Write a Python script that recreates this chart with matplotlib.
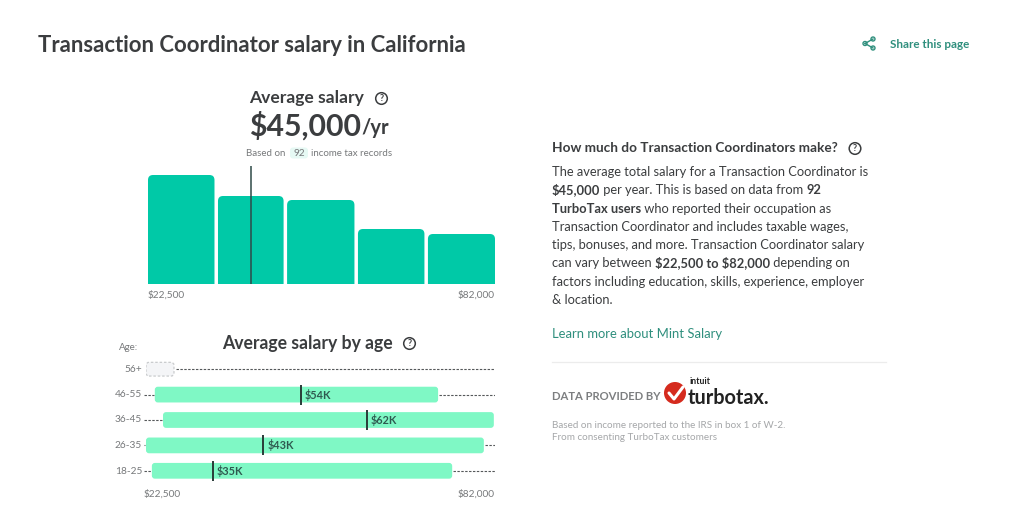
"""Transaction Coordinator salary page"""
import matplotlib
matplotlib.use('Agg')
import matplotlib.pyplot as plt
from matplotlib.patches import Circle, FancyBboxPatch

plt.rcParams['font.family'] = ['Lato', 'DejaVu Sans']

# histogram
hist_edges = [22500, 34500, 46350, 58500, 70500, 82000]
hist_heights = [109, 88, 84, 55, 50]
avg_marker = 40200
low_label = '$22,500'
high_label = '$82,000'

# salary by age
ages = ['18-25', '26-35', '36-45', '46-55', '56+']
age_low = [23500, 22500, 25400, 24000, None]
age_high = [74700, 80100, 81800, 72300, None]
age_mark = [33900, 42500, 60100, 48900, None]
age_text = ['$35K', '$43K', '$62K', '$54K', None]

body_lines = [
    [('The average total salary for a Transaction Coordinator is', False)],
    [('$45,000', True), (' per year. This is based on data from ', False), ('92', True)],
    [('TurboTax users', True), (' who reported their occupation as', False)],
    [('Transaction Coordinator and includes taxable wages,', False)],
    [('tips, bonuses, and more. Transaction Coordinator salary', False)],
    [('can vary between ', False), ('$22,500 to $82,000', True), (' depending on', False)],
    [('factors including education, skills, experience, employer', False)],
    [('& location.', False)],
]
body_y = [171, 189, 208, 226, 244, 262, 281, 299]

DARK = '#3b3d3f'
GREY = '#77797b'
TEAL = '#00c9a7'
MINT = '#7ff8c5'
LINK = '#2f8f7d'

fig = plt.figure(figsize=(10.24, 5.28), dpi=100, facecolor='white')


def px_axes(left, top, right, bottom):
    return fig.add_axes([left / 1024, 1 - bottom / 528,
                         (right - left) / 1024, (bottom - top) / 528])


page = px_axes(0, 0, 1024, 528)
page.set_xlim(0, 1024)
page.set_ylim(528, 0)
page.axis('off')


def label(x, y, s, size, color=DARK, weight='normal', ha='left'):
    return page.text(x, y + 1, s, fontsize=size, color=color, fontweight=weight,
                     ha=ha, va='center', parse_math=False)


def help_icon(x, y):
    page.add_patch(Circle((x, y), 5.8, fc='white', ec=DARK, lw=1.1))
    label(x, y - 1, '?', 6.5, weight='bold', ha='center')


def runs(x, y, parts, size, color=DARK):
    renderer = fig.canvas.get_renderer()
    for s, bold in parts:
        t = label(x, y, s, size, color, 'bold' if bold else 'normal')
        x = t.get_window_extent(renderer).x1
    return x


# header
label(38, 44.5, 'Transaction Coordinator salary in California', 15.9, weight='bold')
label(890, 43, 'Share this page', 8.4, LINK, 'bold')
for a, b in [((865, 43.5), (873, 39)), ((865, 43.5), (873, 48))]:
    page.plot([a[0], b[0]], [a[1], b[1]], color=LINK, lw=1)
for c in [(865, 43.5), (873, 39), (873, 48)]:
    page.add_patch(Circle(c, 2, fc='white', ec=LINK, lw=1))

# histogram block
label(249.5, 96.5, 'Average salary', 12.6, weight='bold')
help_icon(381.5, 98.5)
label(249, 124.5, '$45,000', 21.8, weight='bold')
label(361, 127, '/yr', 14.5, weight='bold')
label(246, 152, 'Based on', 7, GREY)
page.add_patch(FancyBboxPatch((290, 147.5), 18, 11, boxstyle='round,pad=0,rounding_size=3',
                              fc='#e6f9f4', ec='none'))
label(299, 152, '92', 7.2, GREY, ha='center')
label(311, 152, 'income tax records', 7, GREY)

ax = px_axes(148, 166, 495, 284)
ax.set_xlim(hist_edges[0], hist_edges[-1])
ax.set_ylim(0, 118)
ax.axis('off')
x_per_px = (hist_edges[-1] - hist_edges[0]) / 347
for i, h in enumerate(hist_heights):
    gap = 0 if i == len(hist_heights) - 1 else 3.5 * x_per_px
    # box runs below the axes so only the top corners show rounded
    ax.add_patch(FancyBboxPatch((hist_edges[i], -10),
                                hist_edges[i + 1] - hist_edges[i] - gap, h + 10,
                                boxstyle=f'round,pad=0,rounding_size={5 * x_per_px}',
                                mutation_aspect=1 / x_per_px,
                                fc=TEAL, ec='none'))
ax.plot([avg_marker, avg_marker], [0, 118], color='#2f4a48', lw=1.1)
label(148, 294, low_label, 7.3, GREY)
label(495, 294, high_label, 7.3, GREY, ha='right')

# age block
label(222, 342, 'Average salary by age', 12.7, weight='bold')
help_icon(409.5, 343.5)
label(119, 346, 'Age:', 7, GREY)

ax2 = px_axes(146, 356.5, 495, 483.5)
ax2.set_xlim(22500, 82000)
ax2.set_ylim(-0.5, 4.5)
ax2.axis('off')
per_px = 59500 / 349
for i, age in enumerate(ages):
    label(142, 470 - i * 25.5, age, 7.3, GREY, ha='right')
    if age_low[i] is None:
        ax2.add_patch(FancyBboxPatch((22500, i - 0.27), 4770, 0.54,
                                     boxstyle=f'round,pad=0,rounding_size={3 * per_px}',
                                     mutation_aspect=(1 / 25.4) / per_px,
                                     fc='#f4f5f7', ec='#c9cbcd', lw=0.9, ls=(0, (2, 1.5))))
        ax2.plot([27600, 82000], [i, i], color='#55585a', lw=0.8, ls=(0, (2.2, 1.3)))
        continue
    ax2.plot([22160, age_low[i] - 0.7 * per_px], [i, i], color='#55585a', lw=0.8,
             ls=(0, (2.2, 1.3)), clip_on=False)
    ax2.plot([age_high[i] + 1.2 * per_px, 82000], [i, i], color='#55585a', lw=0.8,
             ls=(0, (2.2, 1.3)))
    ax2.add_patch(FancyBboxPatch((age_low[i], i - 0.31), age_high[i] - age_low[i], 0.62,
                                 boxstyle=f'round,pad=0,rounding_size={3 * per_px}',
                                 mutation_aspect=(1 / 25.4) / per_px,
                                 fc=MINT, ec='none'))
    ax2.plot([age_mark[i], age_mark[i]], [i - 0.39, i + 0.39], color='#2a3b38', lw=1.4,
             solid_capstyle='butt')
    ax2.text(age_mark[i] + 4 * per_px, i, age_text[i], fontsize=7.8, fontweight='bold',
             color='#2f5a50', va='center', parse_math=False)
label(144, 493, low_label, 7.3, GREY)
label(495, 493, high_label, 7.3, GREY, ha='right')

# right column
label(552, 147.5, 'How much do Transaction Coordinators make?', 9.8, weight='bold')
help_icon(855, 148.5)
for y, parts in zip(body_y, body_lines):
    runs(552, y, parts, 9.3)
label(552, 332.5, 'Learn more about Mint Salary', 9.4, LINK)
page.plot([552, 886], [361.5, 361.5], color='#ececec', lw=0.9)

# data provided by
label(552, 395.5, 'DATA PROVIDED BY', 8.1, '#7c7e80', 'bold')
page.add_patch(Circle((675, 393), 11, fc='#d52b1e', ec='none'))
page.plot([669, 674, 683], [393, 399, 387], color='white', lw=2.2, solid_capstyle='round')
label(690, 380.5, 'intuit', 6.3, '#222222', 'bold')
label(688, 397, 'turbotax.', 14.3, '#222222', 'bold')
label(552, 424, 'Based on income reported to the IRS in box 1 of W-2.', 7.1, '#a5a7a9')
label(552, 437, 'From consenting TurboTax customers', 7.1, '#a5a7a9')

fig.savefig('out.png', dpi=100, facecolor='white')
